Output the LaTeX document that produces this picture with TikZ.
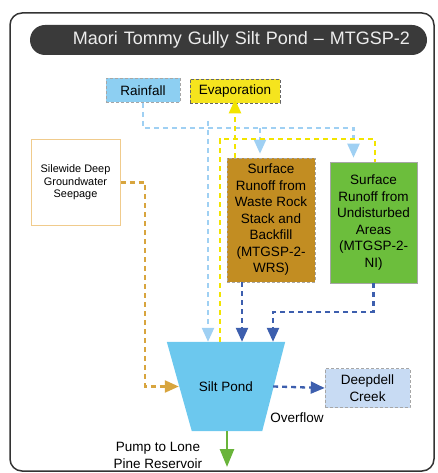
\documentclass[tikz,border=0pt]{standalone}
\usepackage{fontspec}
\setmainfont{Liberation Sans}
\usetikzlibrary{arrows.meta,positioning,calc}
\definecolor{frameink}{HTML}{333333}
\definecolor{barfill}{HTML}{3A3A3A}
\definecolor{bartext}{HTML}{EDEDED}
\definecolor{rainfill}{HTML}{8DCFF2}
\definecolor{rainline}{HTML}{9FD0F3}
\definecolor{evapfill}{HTML}{F5E41E}
\definecolor{evapline}{HTML}{F2E400}
\definecolor{wrsfill}{HTML}{C28D22}
\definecolor{nifill}{HTML}{6CBE3C}
\definecolor{seepedge}{HTML}{F0CB8C}
\definecolor{seepline}{HTML}{D8A53E}
\definecolor{runline}{HTML}{3D5FAE}
\definecolor{pondfill}{HTML}{6CC8EE}
\definecolor{creekfill}{HTML}{C8DBF3}
\definecolor{pumpline}{HTML}{69B43A}
\tikzset{
  box/.style={
    draw=gray!70, densely dashed, line width=0.6pt, inner sep=2pt,
    align=center, font=\fontsize{13.5}{16.5}\selectfont, text=black},
  titlebar/.style={
    fill=barfill, rounded corners=15pt, minimum width=397pt, minimum height=30pt,
    text width=363pt, inner xsep=17pt, align=right,
    font=\fontsize{18}{20}\selectfont, text=bartext},
  lbl/.style={align=center, font=\fontsize{13.5}{16.5}\selectfont, inner sep=1pt},
  flow/.style={line width=2.3pt, dash pattern=on 5pt off 4pt},
  flowhead/.style={-{Triangle[length=14pt,width=12pt]}},
  rainln/.style={flow, draw=rainline},
  evapln/.style={flow, draw=evapline},
  seepln/.style={flow, draw=seepline},
  runln/.style={flow, draw=runline},
  pumpln/.style={line width=2.6pt, draw=pumpline,
    -{Triangle[length=18pt,width=14pt]}},
}

\begin{document}
\begin{tikzpicture}[x=1pt,y=-1pt]
\useasboundingbox (0,0) rectangle (437,473);

% =====================================================================
\draw[frameink, line width=1.5pt, rounded corners=12pt] (10,13) rectangle (434,471);
\node[titlebar] (title) at (228.5,40) {Maori Tommy Gully Silt Pond -- MTGSP-2};

% sources
\node[box, fill=rainfill, minimum width=74pt, minimum height=24pt] (rain) at (143,90.5) {Rainfall};
\node[box, fill=evapfill, draw=black!60, minimum width=90pt, minimum height=24pt] (evap) at (235,91) {Evaporation};
\node[box, fill=white, draw=seepedge, solid, line width=1pt, minimum width=89pt, minimum height=85pt,
      font=\fontsize{10.9}{12.5}\selectfont] (seep) at (75.5,182.5)
  {Silewide Deep\\Groundwater\\Seepage};
\node[box, fill=wrsfill, minimum width=88pt, minimum height=124pt] (wrs) at (271,220)
  {Surface\\Runoff from\\Waste Rock\\Stack and\\Backfill\\(MTGSP-2-\\WRS)};
\node[box, fill=nifill, solid, minimum width=87pt, minimum height=121pt] (ni) at (373.5,222.5)
  {Surface\\Runoff from\\Undisturbed\\Areas\\(MTGSP-2-\\NI)};

% the pond and where it goes
\node[lbl, minimum width=118pt, minimum height=89pt] (pond) at (226,386.5) {};
\fill[pondfill] (pond.north west) -- (pond.north east)
  -- ($(pond.south east)+(-23,0)$) -- ($(pond.south west)+(25,0)$) -- cycle;
\node[lbl] (pondtxt) at (pond.center) {Silt Pond};
\node[box, fill=creekfill, minimum width=85pt, minimum height=39pt] (creek) at (367.5,388) {Deepdell\\Creek};
\node[lbl] (ovfl) at (297,418) {Overflow};
\node[lbl] (pump) at (158,455.5) {Pump to Lone\\Pine Reservoir};

% =====================================================================
\coordinate (rrow)  at (0,128);
\coordinate (yrow)  at (0,139);
\coordinate (nrow)  at (0,312);
\coordinate (wrsR)  at ([xshift=-11pt]wrs.north);
\coordinate (niR)   at ([xshift=-20pt]ni.north);
\coordinate (niY)   at ([xshift=1.5pt]ni.north);
\coordinate (pondR) at ([xshift=-18pt]pond.north);
\coordinate (pondY) at ([xshift=-6pt]pond.north);
\coordinate (pondW) at ([xshift=16pt]pond.north);
\coordinate (pondN) at ([xshift=47pt]pond.north);
\coordinate (pondL) at ($(pond.west)+(12,0)$);
\coordinate (pondO) at ($(pond.east)+(-12,0)$);
\coordinate (sbend) at (145,0);
\coordinate (pumpend) at (227,467);

% rainfall
\draw[rainln, flowhead, shorten >=4pt] (rain.south) |- (rrow -| niR) -- (niR);
\draw[rainln, flowhead, shorten >=4pt] (rrow -| wrsR) -- (wrsR);
\draw[rainln, flowhead] ([yshift=7pt]rrow -| pondR) -- (pondR);

% evaporation
\draw[evapln] (pondY) |- (yrow -| niY) -- (niY);
\draw[evapln, flowhead] (evap.south |- wrs.north) -- ([yshift=4pt]evap.south);

% seepage
\draw[seepln, flowhead] (seep.east) -| (sbend |- pondL) -- (pondL);

% runoff into the pond
\draw[runln, flowhead] (pondW |- wrs.south) -- (pondW);
\draw[runln, flowhead] (ni.south) |- (nrow -| pondN) -- (pondN);

% out of the pond
\draw[runln, flowhead] (pondO) -- (creek.west);
\draw[pumpln] ([xshift=1pt]pond.south) -- (pumpend);

\end{tikzpicture}
\end{document}
